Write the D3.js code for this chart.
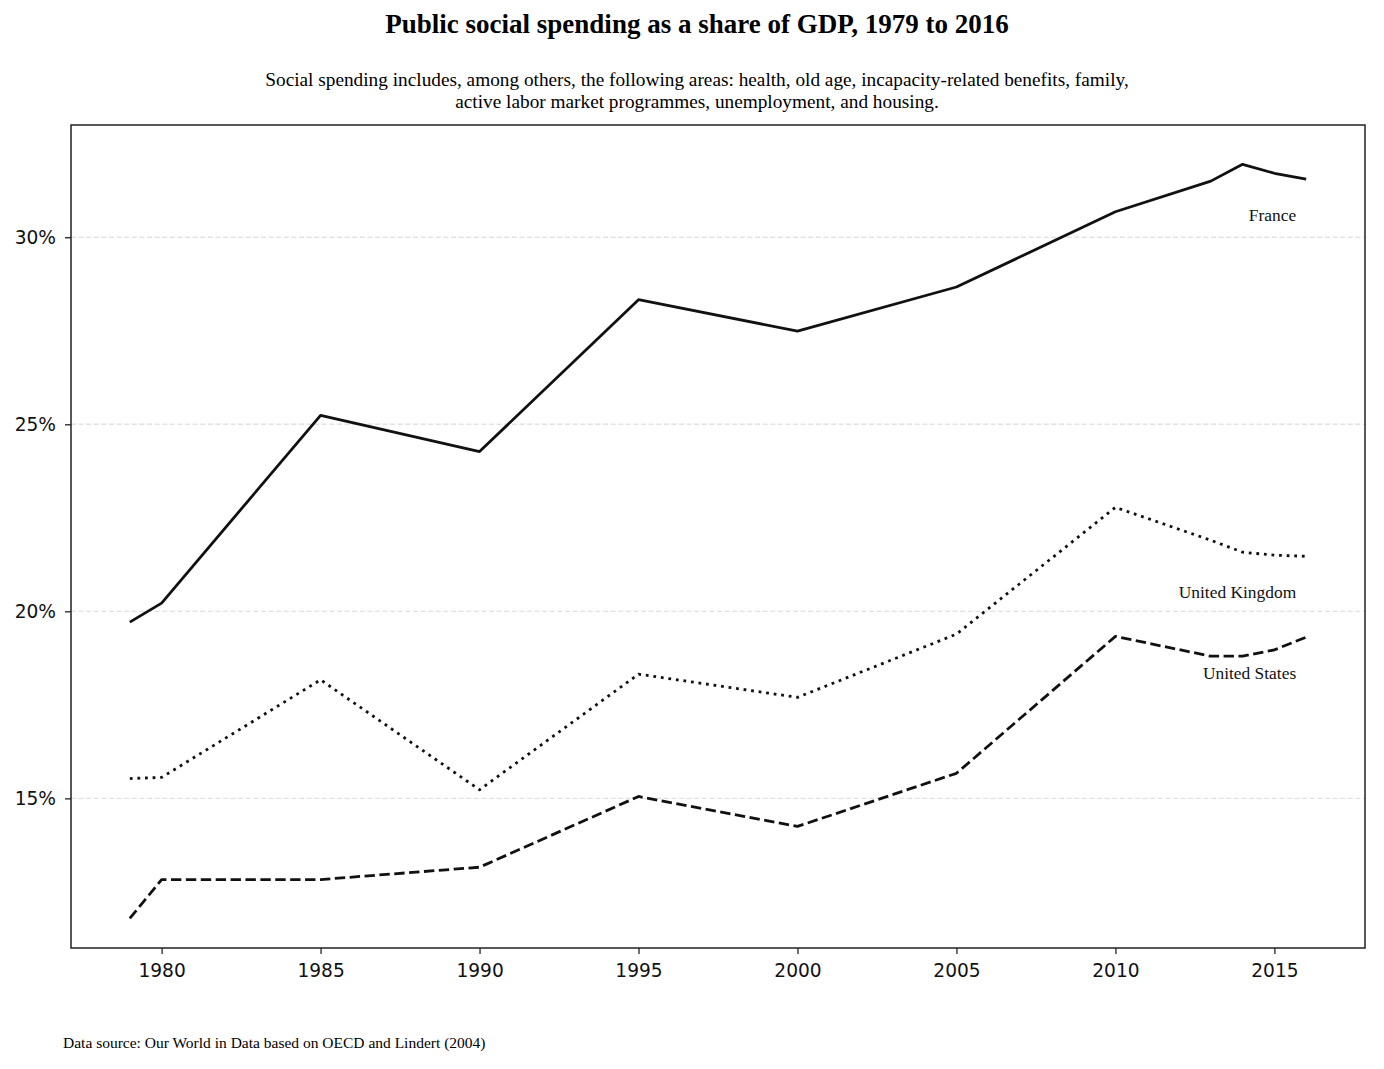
<!DOCTYPE html>
<html>
<head>
<meta charset="utf-8">
<script src="https://cdn.jsdelivr.net/npm/d3@7"></script>
<style>
  html, body { margin: 0; padding: 0; background: #fff; }
  svg { display: block; }
</style>
</head>
<body>
<svg id="chart" width="1384" height="1069"></svg>
<script>
// ---- Data ----
const years = [1979, 1980, 1985, 1990, 1995, 2000, 2005, 2010, 2013, 2014, 2015, 2016];
const france = [19.71, 20.22, 25.24, 24.27, 28.33, 27.49, 28.67, 30.68, 31.50, 31.95, 31.71, 31.55];
const unitedKingdom = [15.53, 15.56, 18.17, 15.23, 18.32, 17.70, 19.39, 22.78, 21.90, 21.58, 21.50, 21.47];
const unitedStates = [11.79, 12.83, 12.83, 13.16, 15.05, 14.25, 15.67, 19.33, 18.80, 18.80, 18.97, 19.31];
const seriesNames = ["France", "United Kingdom", "United States"];
const xTicks = [1980, 1985, 1990, 1995, 2000, 2005, 2010, 2015];
const yTicks = [15, 20, 25, 30];

const titleText = "Public social spending as a share of GDP, 1979 to 2016";
const subtitleLines = [
  "Social spending includes, among others, the following areas: health, old age, incapacity-related benefits, family,",
  "active labor market programmes, unemployment, and housing."
];
const sourceText = "Data source: Our World in Data based on OECD and Lindert (2004)";

// ---- Layout ----
const W = 1384, H = 1069;
const margin = { left: 71, right: W - 1365, top: 125, bottom: H - 948 };
const svg = d3.select("#chart");
const serif = "'Liberation Serif', 'Times New Roman', serif";
const sans = "'DejaVu Sans', sans-serif";

const x = d3.scaleLinear()
  .domain([1977.15, 2017.85])
  .range([margin.left, W - margin.right]);
const y = d3.scaleLinear()
  .domain([11, 33])
  .range([H - margin.bottom, margin.top]);

// grid
svg.append("g")
  .selectAll("line")
  .data(yTicks)
  .join("line")
  .attr("x1", margin.left).attr("x2", W - margin.right)
  .attr("y1", d => y(d)).attr("y2", d => y(d))
  .attr("stroke", "#e2e2e2")
  .attr("stroke-width", 1.3)
  .attr("stroke-dasharray", "5,2.6");

// lines
const series = [
  { name: seriesNames[0], values: france, dash: null },
  { name: seriesNames[1], values: unitedKingdom, dash: "2.8,4.8" },
  { name: seriesNames[2], values: unitedStates, dash: "10.4,4.5" }
];
const line = d3.line().x(d => x(d[0])).y(d => y(d[1]));
svg.append("g")
  .selectAll("path")
  .data(series)
  .join("path")
  .attr("d", s => line(years.map((yr, i) => [yr, s.values[i]])))
  .attr("fill", "none")
  .attr("stroke", "#111")
  .attr("stroke-width", 2.8)
  .attr("stroke-linejoin", "round")
  .attr("stroke-dasharray", s => s.dash);

// series labels (right aligned, 1 point below last value)
svg.append("g")
  .selectAll("text")
  .data(series)
  .join("text")
  .attr("x", x(years[years.length - 1]) - 10)
  .attr("y", s => y(s.values[s.values.length - 1] - 1))
  .attr("dy", "0.25em")
  .attr("text-anchor", "end")
  .attr("font-family", serif)
  .attr("font-size", 17.4)
  .attr("fill", "#111")
  .text(s => s.name);

// axes
const xAxis = d3.axisBottom(x).tickValues(xTicks).tickFormat(d3.format("d")).tickSize(6).tickPadding(10);
const yAxis = d3.axisLeft(y).tickValues(yTicks).tickFormat(d => d + "%").tickSize(6).tickPadding(9);
const gx = svg.append("g").attr("transform", `translate(0,${H - margin.bottom})`).call(xAxis);
const gy = svg.append("g").attr("transform", `translate(${margin.left},0)`).call(yAxis);
[gx, gy].forEach(g => {
  g.select(".domain").remove();
  g.selectAll(".tick line").attr("stroke", "#333").attr("stroke-width", 1.4);
  g.selectAll(".tick text").attr("font-family", sans).attr("font-size", 18.6).attr("fill", "#111");
});

// frame
svg.append("rect")
  .attr("x", margin.left).attr("y", margin.top)
  .attr("width", W - margin.left - margin.right)
  .attr("height", H - margin.top - margin.bottom)
  .attr("fill", "none").attr("stroke", "#222").attr("stroke-width", 1.5);

// title
svg.append("text")
  .attr("x", 697).attr("y", 33)
  .attr("text-anchor", "middle")
  .attr("font-family", serif).attr("font-weight", "bold").attr("font-size", 27)
  .attr("fill", "#000")
  .text(titleText);

svg.append("g")
  .selectAll("text")
  .data(subtitleLines)
  .join("text")
  .attr("x", 697)
  .attr("y", (d, i) => 86 + i * 22)
  .attr("text-anchor", "middle")
  .attr("font-family", serif).attr("font-size", 19.3)
  .attr("fill", "#000")
  .text(d => d);

svg.append("text")
  .attr("x", 63).attr("y", 1048)
  .attr("font-family", serif).attr("font-size", 15.5)
  .attr("fill", "#000")
  .text(sourceText);
</script>
</body>
</html>
